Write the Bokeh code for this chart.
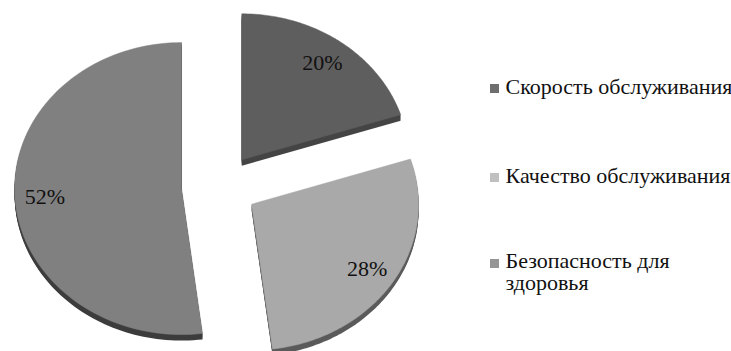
import numpy as np
from bokeh.plotting import figure
from bokeh.models import Range1d
from bokeh.embed import file_html
from bokeh.resources import INLINE
from bokeh.core.properties import value

# ---- data ----
categories = ["Скорость обслуживания", "Качество обслуживания", "Безопасность для\nздоровья"]
shares = [20, 28, 52]
pct_labels = ["20%", "28%", "52%"]
top_colors = ["#5e5e5e", "#a9a9a9", "#808080"]
side_colors = ["#444444", "#5a5a5a", "#3c3c3c"]
legend_colors = ["#6e6e6e", "#c0c0c0", "#959595"]

FONT = value("Liberation Serif")

# ---- geometry (pixel-like data space) ----
W, H = 731, 351
p = figure(width=W, height=H, x_range=Range1d(0, W), y_range=Range1d(H, 0),
           x_axis_type=None, y_axis_type=None, toolbar_location=None,
           output_backend="svg", min_border=0, outline_line_color=None)
p.grid.visible = False

cx, cy = 219.0, 186.0   # common centre
rx, ry = 167.0, 146.0   # elliptical radii
ex, ey = 38.0, 33.0     # explode offset
depth = 6.0
lab_k = 0.82

total = float(sum(shares))
fr = np.array(shares) / total * 2 * np.pi
ends = np.cumsum(fr)
starts = ends - fr

top_xs, top_ys, lx, ly = [], [], [], []
for s, e in zip(starts, ends):
    mid = (s + e) / 2
    ax = cx + ex * np.sin(mid)
    ay = cy - ey * np.cos(mid)
    t = np.linspace(s, e, 120)
    top_xs.append([ax] + list(ax + rx * np.sin(t)))
    top_ys.append([ay] + list(ay - ry * np.cos(t)))
    lx.append(ax + lab_k * rx * np.sin(mid))
    ly.append(ay - lab_k * ry * np.cos(mid))

# side (depth) faces: the top face swept downward
for xs, ys, c in zip(top_xs, top_ys, side_colors):
    for d in np.linspace(1, depth, 6):
        p.patch(x=xs, y=[y + d for y in ys], fill_color=c, line_color=None)
p.patches(xs=top_xs, ys=top_ys, fill_color=top_colors, line_color=top_colors, line_width=0.5)

p.text(x=lx, y=ly, text=pct_labels, text_font=FONT,
       text_font_size="22px", text_align="center", text_baseline="middle", text_color="#111111")

# ---- legend ----
leg_x = 494
leg_y = [88, 177, 263]
line_h = 19
p.scatter(x=[leg_x] * 3, y=leg_y, marker="square", size=9, fill_color=legend_colors, line_color=None)
ty = [y - 2 + c.count("\n") * line_h / 2 for c, y in zip(categories, leg_y)]
p.text(x=[leg_x + 11] * 3, y=ty, text=categories, text_font=FONT,
       text_font_size="22px", text_align="left", text_baseline="middle", text_color="#111111",
       text_line_height=0.88)

open("out.html", "w").write(file_html(p, INLINE))
